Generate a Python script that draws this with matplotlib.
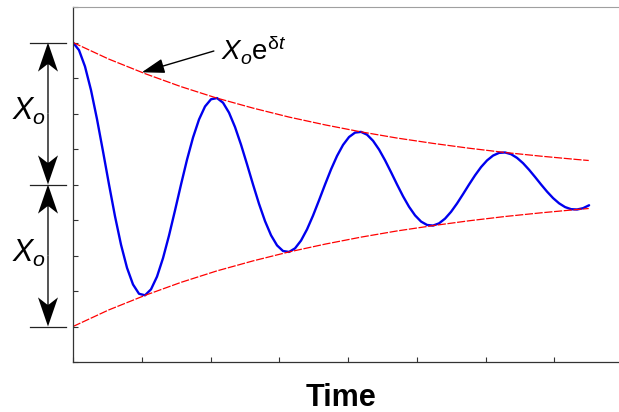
import numpy as np
import matplotlib.pyplot as plt
from matplotlib.patches import FancyArrow

plt.rcParams['font.family'] = ['Liberation Sans', 'DejaVu Sans']
plt.rcParams['mathtext.fontset'] = 'custom'
plt.rcParams['mathtext.rm'] = 'Liberation Sans'
plt.rcParams['mathtext.it'] = 'Liberation Sans:italic'
plt.rcParams['mathtext.bf'] = 'Liberation Sans:bold'

time = np.linspace(0, 7.505, 87)
displacement = [
    9.000, 8.785, 8.324, 7.658, 6.841, 5.934,
    5.000, 4.104, 3.305, 2.653, 2.184, 1.922,
    1.879, 2.047, 2.406, 2.926, 3.563, 4.271,
    5.000, 5.700, 6.323, 6.832, 7.198, 7.401,
    7.435, 7.304, 7.023, 6.618, 6.121, 5.569,
    5.000, 4.454, 3.968, 3.570, 3.285, 3.126,
    3.100, 3.202, 3.421, 3.737, 4.125, 4.556,
    5.000, 5.426, 5.805, 6.115, 6.338, 6.462,
    6.482, 6.403, 6.231, 5.985, 5.682, 5.346,
    5.000, 4.668, 4.372, 4.130, 3.956, 3.860,
    3.843, 3.906, 4.039, 4.231, 4.467, 4.730,
    5.000, 5.259, 5.491, 5.679, 5.815, 5.891,
    5.902, 5.854, 5.749, 5.600, 5.415, 5.211,
    5.000, 4.798, 4.617, 4.470, 4.364, 4.305,
    4.296, 4.333, 4.415,
]

# decay envelopes
env_time = [0, 0.52, 1.05, 1.57, 2.09, 2.62, 3.14, 3.67, 4.19, 4.71,
            5.24, 5.76, 6.28, 6.81, 7.33, 7.5]
env_upper = [9.000, 8.533, 8.121, 7.757, 7.435, 7.151, 6.900, 6.678,
             6.482, 6.309, 6.157, 6.022, 5.902, 5.797, 5.704, 5.676]
env_lower = [1.000, 1.467, 1.879, 2.243, 2.565, 2.849, 3.100, 3.322,
             3.518, 3.691, 3.843, 3.978, 4.098, 4.203, 4.296, 4.324]

x_mid = 5
x_o = 4

fig = plt.figure(figsize=(6.19, 4.12), dpi=100)
ax = fig.add_axes([73/619, 50/412, 546/619, 355/412])

ax.plot(time, displacement, color='#0000ee', lw=1.7, solid_capstyle='round')
ax.plot(env_time, env_upper, color='#ff0000', lw=0.9, ls=(0, (6.5, 1.3)))
ax.plot(env_time, env_lower, color='#ff0000', lw=0.9, ls=(0, (6.5, 1.3)))

ax.set_xlim(0, 7.94)
ax.set_ylim(0, 10)
ax.set_xticks(np.arange(0, 8))
ax.set_yticks(np.arange(0, 11))
ax.tick_params(direction='in', length=3.8, width=0.8, color='#333333',
               labelbottom=False, labelleft=False)
ax.spines['right'].set_visible(False)
ax.spines['top'].set_color('#a0a0a0')
ax.spines['top'].set_linewidth(0.8)
for s in ('left', 'bottom'):
    ax.spines[s].set_color('#333333')
    ax.spines[s].set_linewidth(0.9)

# amplitude markers left of the axis
ytr = ax.get_yaxis_transform()
for yv in (x_mid + x_o, x_mid, x_mid - x_o):
    ax.plot([-0.079, -0.013], [yv, yv], color='#222222', lw=0.9,
            transform=ytr, clip_on=False)
for c in (x_mid + x_o / 2, x_mid - x_o / 2):
    for d in (x_o / 2, -x_o / 2):
        ax.add_patch(FancyArrow(-0.0458, c, 0, d, width=0.0024,
                                length_includes_head=True, head_width=0.0366,
                                head_length=0.82, overhang=0.25, color='k',
                                lw=0, transform=ytr, clip_on=False))
    ax.text(-0.1117, c - 0.17, r'$X_o$', transform=ytr, fontsize=22,
            ha='left', va='baseline')

ax.annotate(r'$X_o\mathrm{e}^{\mathrm{\delta}t}$', xy=(1.0, 8.16),
            xytext=(2.147, 8.535), fontsize=20, ha='left', va='baseline',
            arrowprops=dict(arrowstyle='-|>,head_length=14,head_width=4.5',
                            mutation_scale=1, color='k', lw=1,
                            relpos=(0, 0.5), shrinkA=3, shrinkB=0))

fig.text(340.5/619, 6/412, 'Time', ha='center', va='baseline',
         fontsize=22, fontweight='bold')

fig.savefig('out.png', dpi=100)
